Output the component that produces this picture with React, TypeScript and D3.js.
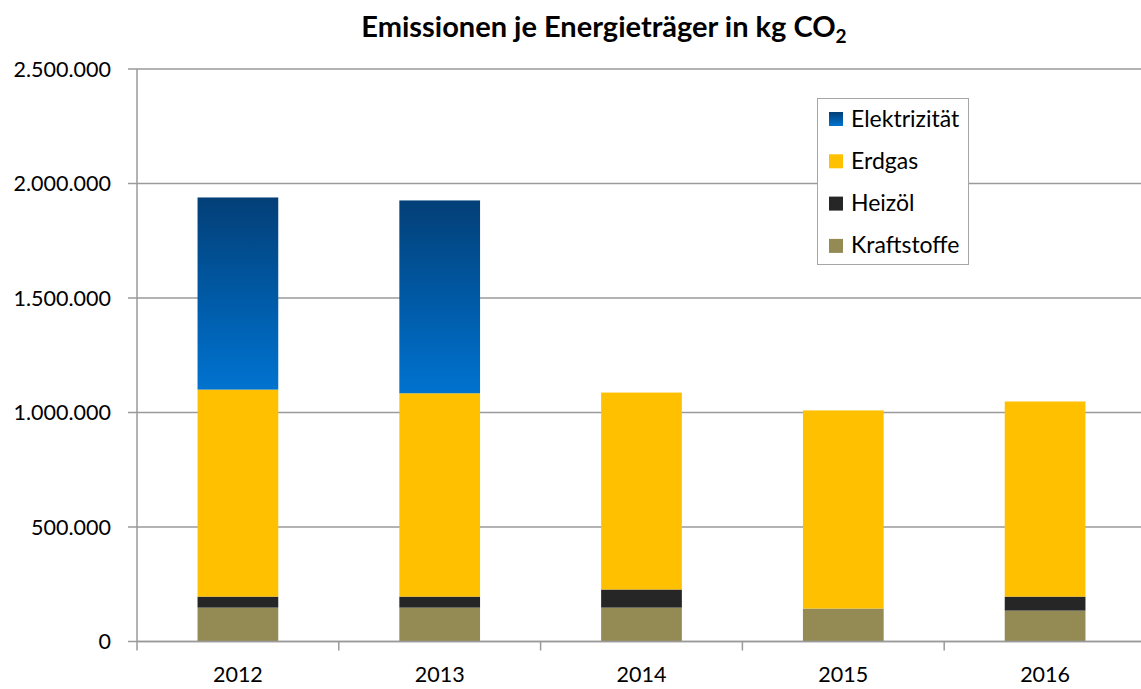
import React from "react";
import * as d3 from "d3";

// data
const years = ["2012", "2013", "2014", "2015", "2016"];
const kraftstoffe = [148000, 148000, 148000, 144000, 135000];
const heizoel = [48000, 48000, 79000, 0, 61000];
const erdgas = [904000, 888000, 860000, 865000, 852000];
const elektrizitaet = [839000, 842000, 0, 0, 0];
const yTicks = [0, 500000, 1000000, 1500000, 2000000, 2500000];

const keys = ["kraftstoffe", "heizoel", "erdgas", "elektrizitaet"];
const labels: Record<string, string> = {
  elektrizitaet: "Elektrizität",
  erdgas: "Erdgas",
  heizoel: "Heizöl",
  kraftstoffe: "Kraftstoffe",
};
const colors: Record<string, string> = {
  elektrizitaet: "url(#elekGrad)",
  erdgas: "#ffc000",
  heizoel: "#262626",
  kraftstoffe: "#948a54",
};

const width = 1141;
const height = 689;
const left = 137;
const right = 1146;
const top = 69;
const bottom = 641.5;

const fmt = (v: number) => d3.format(",")(v).replace(/,/g, ".");

export default function App() {
  const rows = years.map((y, i) => ({
    year: y,
    kraftstoffe: kraftstoffe[i],
    heizoel: heizoel[i],
    erdgas: erdgas[i],
    elektrizitaet: elektrizitaet[i],
  }));
  const stacked = d3.stack<any>().keys(keys)(rows);

  const x = d3.scaleBand().domain(years).range([left, right]).paddingInner(0.6).paddingOuter(0.3);
  const xb = d3.scaleBand().domain(years).range([left, right]);
  const y = d3.scaleLinear().domain([0, 2500000]).range([bottom, top]);

  const legendOrder = ["elektrizitaet", "erdgas", "heizoel", "kraftstoffe"];

  return (
    <svg width={width} height={height} style={{ position: "absolute", left: 0, top: 0, fontFamily: "Lato, 'Open Sans', sans-serif" }}>
      <defs>
        <linearGradient id="elekGrad" x1="0" y1="0" x2="0" y2="1">
          <stop offset="0%" stopColor="#033f77" />
          <stop offset="50%" stopColor="#0059a4" />
          <stop offset="100%" stopColor="#0073d0" />
        </linearGradient>
      </defs>
      <rect width={width} height={height} fill="#fff" />

      <text x={604} y={37} textAnchor="middle" fontSize={29} fontWeight="bold" fill="#000">
        Emissionen je Energieträger in kg CO
        <tspan fontSize={19} dy={6}>2</tspan>
      </text>

      {/* gridlines */}
      {yTicks.map((t) => (
        <line key={t} x1={left} x2={width} y1={y(t)} y2={y(t)} stroke="#9a9a9a" strokeWidth={1.5} />
      ))}

      {/* bars */}
      {stacked.map((s) => (
        <g key={s.key} fill={colors[s.key]}>
          {s.map((d, i) =>
            d[1] - d[0] > 0 ? (
              <rect
                key={i}
                x={x(years[i])}
                width={x.bandwidth()}
                y={y(d[1])}
                height={y(d[0]) - y(d[1])}
              />
            ) : null
          )}
        </g>
      ))}

      {/* y axis */}
      <line x1={left} x2={left} y1={top} y2={bottom} stroke="#9a9a9a" strokeWidth={1.5} />
      {yTicks.map((t) => (
        <g key={t}>
          <line x1={left - 9} x2={left} y1={y(t)} y2={y(t)} stroke="#9a9a9a" strokeWidth={1.5} />
          <text x={111} y={y(t) + 7.5} textAnchor="end" fontSize={21.5} fill="#000">
            {fmt(t)}
          </text>
        </g>
      ))}

      {/* x axis */}
      <line x1={left} x2={width} y1={bottom} y2={bottom} stroke="#9a9a9a" strokeWidth={1.5} />
      {years.map((yr) => (
        <g key={yr}>
          <line x1={xb(yr)} x2={xb(yr)} y1={bottom} y2={bottom + 9} stroke="#9a9a9a" strokeWidth={1.5} />
          <text x={(xb(yr) as number) + xb.bandwidth() / 2} y={682} textAnchor="middle" fontSize={21.5} fill="#000">
            {yr}
          </text>
        </g>
      ))}

      {/* legend */}
      <rect x={817.5} y={98.5} width={151} height={166} fill="#fff" stroke="#a6a6a6" strokeWidth={1} />
      {legendOrder.map((k, i) => (
        <g key={k} transform={`translate(829, ${119 + i * 42.3})`}>
          <rect x={0} y={-7} width={14} height={14} fill={colors[k]} />
          <text x={22} y={7.5} fontSize={23} fill="#000">
            {labels[k]}
          </text>
        </g>
      ))}
    </svg>
  );
}
